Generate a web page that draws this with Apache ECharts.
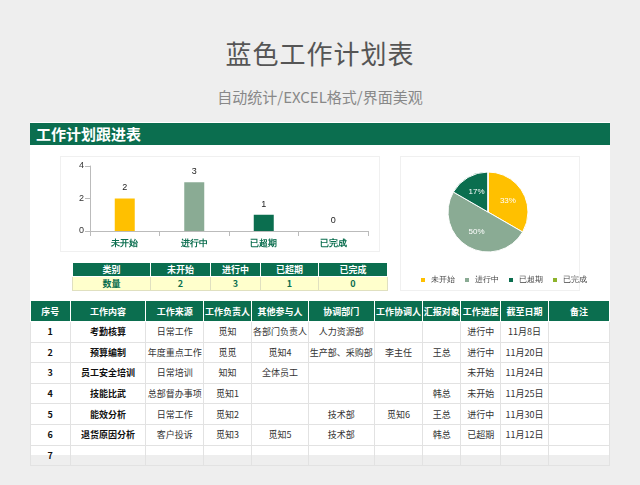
<!DOCTYPE html>
<html>
<head>
<meta charset="utf-8">
<title>蓝色工作计划表</title>
<script src="https://cdn.jsdelivr.net/npm/echarts@6/dist/echarts.min.js"></script>
<style>
  body { margin: 0; width: 640px; height: 485px; background: #eeeeee; font-family: "Noto Sans CJK SC", sans-serif; position: relative; overflow: hidden; }
  .t1 { position: absolute; top: 34px; width: 640px; text-align: center; font-size: 26px; color: #555; letter-spacing: 1px; }
  .t2 { position: absolute; top: 86px; width: 640px; text-align: center; font-size: 15px; color: #888; }
  .card { position: absolute; left: 30px; top: 122px; width: 580px; height: 333px; background: #fff; }
  .banner { position: absolute; left: 30px; top: 123px; width: 580px; height: 22px; background: #0b6e4f; color: #fff; font-weight: bold; font-size: 15px; line-height: 22px; text-indent: 6px; }
  .box { position: absolute; border: 1px solid #f0f0f0; }
  table { position: absolute; border-collapse: collapse; table-layout: fixed; font-size: 9px; }
  td { padding: 0; text-align: center; white-space: nowrap; overflow: hidden; }
  #sum td { border: 1px solid #fff; height: 12px; font-weight: bold; }
  #sum tr.h td { background: #0b6e4f; color: #fff; }
  #sum tr.v td { background: #ffffcc; color: #0b6e4f; border-color: #e0e0c0; }
  #plan tr.h td { background: #0b6e4f; color: #fff; font-weight: bold; height: 20px; border: 1px solid #fff; }
  #plan tr.r td { height: 19.6px; border: 1px solid #e2e2e2; color: #333; }
  #plan tr.r td.b { font-weight: bold; color: #111; }
  #main { position: absolute; left: 0; top: 0; width: 640px; height: 485px; }
</style>
</head>
<body>
<div class="t1">蓝色工作计划表</div>
<div class="t2">自动统计/EXCEL格式/界面美观</div>
<div class="card"></div>
<div class="banner">工作计划跟进表</div>
<div class="box" style="left:60px;top:156px;width:318px;height:94px"></div>
<div class="box" style="left:400px;top:156px;width:178px;height:133px"></div>
<table id="sum" style="left:72px;top:262px;width:315px"></table>
<table id="plan" style="left:30px;top:300px;width:580px"></table>
<div id="main"></div>
<script>
var categories = ['未开始', '进行中', '已超期', '已完成'];
var counts = [2, 3, 1, 0];
var colors = ['#ffc000', '#8aab94', '#0b6e4f', '#8db32b'];

var headers = ['序号', '工作内容', '工作来源', '工作负责人', '其他参与人', '协调部门', '工作协调人', '汇报对象', '工作进度', '截至日期', '备注'];
var colWidths = [37, 71, 54, 45, 53, 62, 45, 36, 37, 45, 57];
var rows = [
  ['1', '考勤核算', '日常工作', '觅知', '各部门负责人', '人力资源部', '', '', '进行中', '11月8日', ''],
  ['2', '预算编制', '年度重点工作', '觅觅', '觅知4', '生产部、采购部', '李主任', '王总', '进行中', '11月20日', ''],
  ['3', '员工安全培训', '日常培训', '知知', '全体员工', '', '', '', '未开始', '11月24日', ''],
  ['4', '技能比武', '总部督办事项', '觅知1', '', '', '', '韩总', '未开始', '11月25日', ''],
  ['5', '能效分析', '日常工作', '觅知2', '', '技术部', '觅知6', '王总', '进行中', '11月30日', ''],
  ['6', '退货原因分析', '客户投诉', '觅知3', '觅知5', '技术部', '', '韩总', '已超期', '11月12日', ''],
  ['7', '', '', '', '', '', '', '', '', '', '']
];

// 汇总表
var sumW = [78, 60, 50, 58, 69];
var sum = document.getElementById('sum');
var html = '<colgroup>' + sumW.map(function (w) { return '<col style="width:' + w + 'px">'; }).join('') + '</colgroup>';
html += '<tr class="h"><td>类别</td>' + categories.map(function (c) { return '<td>' + c + '</td>'; }).join('') + '</tr>';
html += '<tr class="v"><td>数量</td>' + counts.map(function (c) { return '<td>' + c + '</td>'; }).join('') + '</tr>';
sum.innerHTML = html;

// 计划表
var plan = document.getElementById('plan');
html = '<colgroup>' + colWidths.map(function (w) { return '<col style="width:' + w + 'px">'; }).join('') + '</colgroup>';
html += '<tr class="h">' + headers.map(function (h) { return '<td>' + h + '</td>'; }).join('') + '</tr>';
rows.forEach(function (r) {
  html += '<tr class="r">' + r.map(function (v, i) {
    return '<td' + (i < 2 ? ' class="b"' : '') + '>' + v + '</td>';
  }).join('') + '</tr>';
});
plan.innerHTML = html;

var myChart = echarts.init(document.getElementById('main'));
myChart.setOption({
  animation: false,
  grid: { left: 90, right: 272, top: 166, bottom: 254 },
  xAxis: {
    type: 'category',
    data: categories,
    axisLine: { lineStyle: { color: '#bbb' } },
    axisTick: { show: true, alignWithLabel: false, lineStyle: { color: '#bbb' } },
    axisLabel: { color: '#0b6e4f', fontWeight: 'bold', fontSize: 9, margin: 8 }
  },
  yAxis: {
    type: 'value', min: 0, max: 4, interval: 2,
    axisLine: { show: true, lineStyle: { color: '#bbb' } },
    axisTick: { show: true, lineStyle: { color: '#bbb' } },
    splitLine: { show: false },
    axisLabel: { color: '#333', fontSize: 9, margin: 6 }
  },
  legend: {
    data: categories,
    left: 414, top: 271,
    itemWidth: 6, itemHeight: 6, itemGap: 8,
    icon: 'rect',
    textStyle: { fontSize: 8, color: '#444' }
  },
  series: [
    {
      type: 'bar',
      barWidth: 20,
      data: counts.map(function (v, i) { return { value: v, itemStyle: { color: colors[i] } }; }),
      label: { show: true, position: 'top', distance: 6, color: '#222', fontSize: 9 }
    },
    {
      type: 'pie',
      center: [488, 212],
      radius: 40,
      startAngle: 90,
      data: categories.map(function (c, i) { return { name: c, value: counts[i], itemStyle: { color: colors[i] } }; }),
      itemStyle: { borderColor: '#fff', borderWidth: 1 },
      label: {
        show: true, position: 'inside', color: '#fff', fontSize: 8,
        formatter: function (p) { return p.value ? Math.round(p.percent) + '%' : ''; }
      },
      labelLine: { show: false }
    }
  ]
});
</script>
</body>
</html>
